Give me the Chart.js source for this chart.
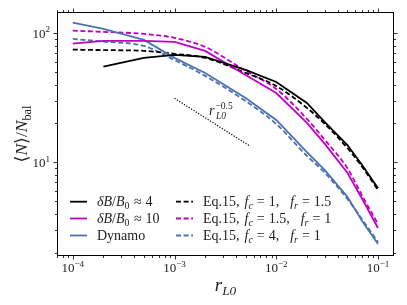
<!DOCTYPE html>
<html>
<head>
<meta charset="utf-8">
<script src="https://cdn.jsdelivr.net/npm/chart.js@4.4.0/dist/chart.umd.min.js"></script>
<style>
  html, body { margin: 0; padding: 0; background: #fff; }
</style>
</head>
<body>
<canvas id="chart" width="407" height="305"></canvas>
<script>
// r_L0 sample positions and the six curves
const rL0 = [1e-4, 2e-4, 5e-4, 1e-3, 2e-3, 5e-3, 1e-2, 2e-2, 3e-2, 5e-2, 7e-2, 1e-1];
const simDB4 = [null, 55.1, 64.4, 67.9, 65.5, 52.0, 41.9, 28.8, 20.5, 13.6, 9.5, 6.3];
const simDB10 = [83.0, 87.2, 87.2, 85.7, 73.0, 47.5, 34.4, 20.2, 13.9, 8.3, 5.2, 3.1];
const simDynamo = [120.8, 108.0, 88.7, 64.4, 49.2, 31.5, 21.3, 12.0, 8.7, 5.4, 3.5, 2.33];
const eqFc1Fr15 = [74.6, 74.0, 73.0, 69.2, 64.4, 49.2, 39.0, 26.4, 19.8, 12.9, 9.2, 6.1];
const eqFc15Fr1 = [104.7, 102.4, 98.8, 92.0, 78.3, 51.0, 37.0, 21.7, 14.9, 9.0, 5.5, 3.33];
const eqFc4Fr1 = [90.3, 86.1, 79.7, 62.0, 46.7, 29.8, 19.8, 11.2, 8.3, 5.2, 3.6, 2.41];

// r^-0.5 guide line (end points)
const slopeX = [1.0e-3, 5.4e-3];
const slopeY = [31.3, 13.5];

// tick labels (decades)
const xDecades = [-4, -3, -2, -1];
const yDecades = [1, 2];

const BLACK = '#000000';
const MAGENTA = '#c000c0';
const BLUE = '#4c72b0';
const SERIF = '"Liberation Serif", "DejaVu Serif", serif';

function pts(xs, ys) {
  return xs.map((x, i) => ({ x: x, y: ys[i] })).filter(p => p.y !== null);
}

const DASH = [5, 2.6];

const series = [
  { label: 'dB4', data: pts(rL0, simDB4), color: BLACK, dash: [] },
  { label: 'dB10', data: pts(rL0, simDB10), color: MAGENTA, dash: [] },
  { label: 'Dynamo', data: pts(rL0, simDynamo), color: BLUE, dash: [] },
  { label: 'eq1', data: pts(rL0, eqFc1Fr15), color: BLACK, dash: DASH },
  { label: 'eq2', data: pts(rL0, eqFc15Fr1), color: MAGENTA, dash: DASH },
  { label: 'eq3', data: pts(rL0, eqFc4Fr1), color: BLUE, dash: DASH }
];

const datasets = series.map(s => ({
  label: s.label,
  data: s.data,
  borderColor: s.color,
  borderWidth: 1.8,
  borderDash: s.dash,
  pointRadius: 0,
  fill: false,
  tension: 0,
  cubicInterpolationMode: s.dash.length ? 'monotone' : 'default'
}));

datasets.push({
  label: 'slope',
  data: pts(slopeX, slopeY),
  borderColor: BLACK,
  borderWidth: 1.2,
  borderDash: [1.2, 1.6],
  pointRadius: 0,
  fill: false
});

// ---- rich text helper (italic / sub / sup / gap) ----
function fontFor(kind, size) {
  const small = kind.includes('sub') || kind.includes('sup');
  const s = small ? size * 0.7 : size;
  const it = kind.startsWith('i') ? 'italic ' : '';
  return it + s.toFixed(1) + 'px ' + SERIF;
}
function offFor(kind, size) {
  if (kind.includes('sub')) return size * 0.2;
  if (kind.includes('sup')) return -size * 0.4;
  return 0;
}
function partWidth(ctx, t, k, size) {
  if (k === 'gap') return t;
  ctx.font = fontFor(k, size);
  return ctx.measureText(t).width;
}
function drawRich(ctx, parts, x, y, size, align) {
  let w = 0;
  parts.forEach(([t, k]) => { w += partWidth(ctx, t, k, size); });
  let cx = align === 'center' ? x - w / 2 : align === 'right' ? x - w : x;
  ctx.textAlign = 'left';
  ctx.textBaseline = 'alphabetic';
  parts.forEach(([t, k]) => {
    if (k !== 'gap') {
      ctx.font = fontFor(k, size);
      ctx.fillText(t, cx, y + offFor(k, size));
    }
    cx += partWidth(ctx, t, k, size);
  });
}

function dbLabel(v) {
  return [['δ', 'i'], ['B', 'i'], ['/', 'r'], ['B', 'i'], ['0', 'sub'], [4.5, 'gap'], ['≈', 'r'], [4, 'gap'], [v, 'r']];
}
function eqLabel(fc, fr) {
  return [['Eq.15,', 'r'], [5, 'gap'], ['f', 'i'], ['c', 'isub'], [4, 'gap'], ['=', 'r'], [4, 'gap'], [fc + ',', 'r'],
          [11, 'gap'], ['f', 'i'], ['r', 'isub'], [4, 'gap'], ['=', 'r'], [4, 'gap'], [fr, 'r']];
}

const legendCols = [
  { lineX: 70, textX: 97, rows: [
    { ds: 0, parts: dbLabel('4') },
    { ds: 1, parts: dbLabel('10') },
    { ds: 2, parts: [['Dynamo', 'r']] }
  ]},
  { lineX: 176, textX: 203, rows: [
    { ds: 3, parts: eqLabel('1', '1.5') },
    { ds: 4, parts: eqLabel('1.5', '1') },
    { ds: 5, parts: eqLabel('4', '1') }
  ]}
];
const legendRowsY = [201.7, 218.5, 235.5];

const decorations = {
  id: 'decorations',
  afterDraw(chart) {
    const ctx = chart.ctx;
    const ca = chart.chartArea;
    const xs = chart.scales.x, ys = chart.scales.y;
    ctx.save();
    ctx.strokeStyle = '#000';
    ctx.fillStyle = '#222';
    ctx.lineWidth = 1;

    // frame
    ctx.strokeRect(ca.left + 0.5, ca.top + 0.5, ca.right - ca.left - 1, ca.bottom - ca.top - 1);

    // ticks, outward on all four sides
    const tick = (x1, y1, x2, y2) => { ctx.beginPath(); ctx.moveTo(x1, y1); ctx.lineTo(x2, y2); ctx.stroke(); };
    ctx.lineWidth = 0.8;
    for (let d = -5; d <= 0; d++) {
      for (let m = 1; m <= 9; m++) {
        const v = m * Math.pow(10, d);
        if (v < xs.min || v > xs.max) continue;
        const px = Math.round(xs.getPixelForValue(v)) + 0.5;
        const len = m === 1 ? 3.5 : 2;
        tick(px, ca.bottom, px, ca.bottom + len);
        tick(px, ca.top, px, ca.top - len);
      }
    }
    for (let d = 0; d <= 2; d++) {
      for (let m = 1; m <= 9; m++) {
        const v = m * Math.pow(10, d);
        if (v < ys.min || v > ys.max) continue;
        const py = Math.round(ys.getPixelForValue(v)) + 0.5;
        const len = m === 1 ? 3.5 : 2;
        tick(ca.left, py, ca.left - len, py);
        tick(ca.right, py, ca.right + len, py);
      }
    }

    // tick labels
    ctx.fillStyle = '#222';
    xDecades.forEach(d => {
      const px = xs.getPixelForValue(Math.pow(10, d));
      drawRich(ctx, [['10', 'r'], ['−' + Math.abs(d), 'sup']], px, 272, 13, 'center');
    });
    yDecades.forEach(d => {
      const py = ys.getPixelForValue(Math.pow(10, d));
      drawRich(ctx, [['10', 'r'], [String(d), 'sup']], 50, py + 4.4, 13, 'right');
    });

    // axis titles
    drawRich(ctx, [['r', 'i'], ['L0', 'isub']], (ca.left + ca.right) / 2, 291, 19, 'center');
    ctx.save();
    ctx.translate(27, (ca.top + ca.bottom) / 2);
    ctx.rotate(-Math.PI / 2);
    drawRich(ctx, [['⟨', 'r'], ['N', 'i'], ['⟩', 'r'], ['/', 'r'], ['N', 'i'], ['bal', 'sub']], 0, 0, 17.5, 'center');
    ctx.restore();

    // slope annotation r_L0^-0.5
    ctx.font = 'italic 14px ' + SERIF;
    ctx.fillText('r', 209, 115);
    ctx.font = '9.5px ' + SERIF;
    ctx.fillText('−0.5', 215.5, 109);
    ctx.font = 'italic 9.5px ' + SERIF;
    ctx.fillText('L0', 216, 119);

    // legend
    legendCols.forEach(col => {
      col.rows.forEach((row, i) => {
        const ds = chart.data.datasets[row.ds];
        const y = legendRowsY[i];
        ctx.strokeStyle = ds.borderColor;
        ctx.lineWidth = 1.8;
        ctx.setLineDash(ds.borderDash);
        ctx.beginPath();
        ctx.moveTo(col.lineX, y);
        ctx.lineTo(col.lineX + 17, y);
        ctx.stroke();
        ctx.setLineDash([]);
        ctx.fillStyle = '#222';
        drawRich(ctx, row.parts, col.textX, y + 4.5, 14, 'left');
      });
    });
    ctx.restore();
  }
};

new Chart(document.getElementById('chart').getContext('2d'), {
  type: 'line',
  data: { datasets: datasets },
  options: {
    responsive: false,
    animation: false,
    devicePixelRatio: 1,
    layout: { padding: { left: 57, right: 13, top: 12, bottom: 49 } },
    plugins: { legend: { display: false }, tooltip: { enabled: false } },
    scales: {
      x: { type: 'logarithmic', min: 7.13e-5, max: 0.1436, display: false },
      y: { type: 'logarithmic', min: 1.88, max: 146, display: false }
    }
  },
  plugins: [decorations]
});
</script>
</body>
</html>
